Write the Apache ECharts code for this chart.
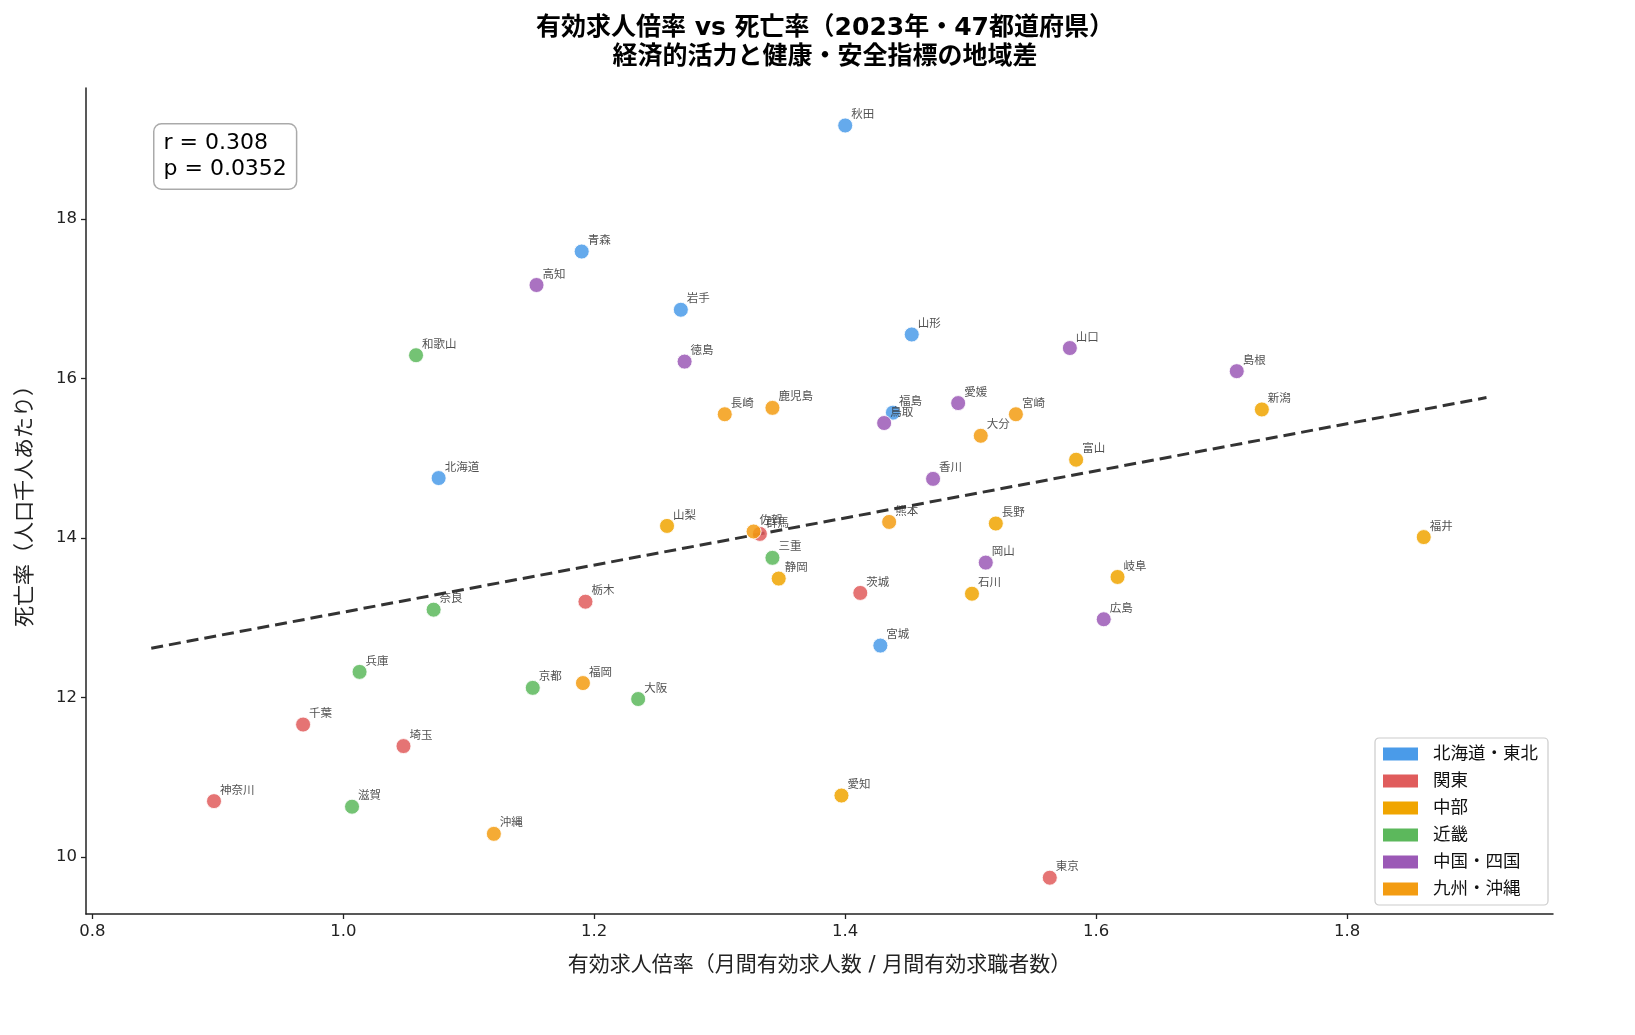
<!DOCTYPE html>
<html>
<head>
<meta charset="utf-8">
<script src="https://cdn.jsdelivr.net/npm/echarts@6/dist/echarts.min.js"></script>
<style>
  html, body { margin: 0; padding: 0; background: #fff; }
  #chart { width: 1635px; height: 1035px; }
</style>
</head>
<body>
<div id="chart"></div>
<script>
// regions and colours
const regions = ['北海道・東北', '関東', '中部', '近畿', '中国・四国', '九州・沖縄']
const regionColors = ['#4a9be9', '#e05c5c', '#f0a500', '#5cb85c', '#9b59b6', '#f39c12']

// prefecture name / 有効求人倍率 / 死亡率, per region
const tohokuNames = ['北海道', '青森', '岩手', '宮城', '秋田', '山形', '福島']
const tohokuJobs = [1.076, 1.190, 1.269, 1.428, 1.400, 1.453, 1.438]
const tohokuDeath = [14.75, 17.59, 16.86, 12.65, 19.17, 16.55, 15.57]

const kantoNames = ['茨城', '栃木', '群馬', '埼玉', '千葉', '東京', '神奈川']
const kantoJobs = [1.412, 1.193, 1.332, 1.048, 0.968, 1.563, 0.897]
const kantoDeath = [13.31, 13.20, 14.05, 11.39, 11.66, 9.74, 10.70]

const chubuNames = ['新潟', '富山', '石川', '福井', '山梨', '長野', '岐阜', '静岡', '愛知']
const chubuJobs = [1.732, 1.584, 1.501, 1.861, 1.258, 1.520, 1.617, 1.347, 1.397]
const chubuDeath = [15.61, 14.98, 13.30, 14.01, 14.15, 14.18, 13.51, 13.49, 10.77]

const kinkiNames = ['三重', '滋賀', '京都', '大阪', '兵庫', '奈良', '和歌山']
const kinkiJobs = [1.342, 1.007, 1.151, 1.235, 1.013, 1.072, 1.058]
const kinkiDeath = [13.75, 10.63, 12.12, 11.98, 12.32, 13.10, 16.29]

const shikokuNames = ['鳥取', '島根', '岡山', '広島', '山口', '徳島', '香川', '愛媛', '高知']
const shikokuJobs = [1.431, 1.712, 1.512, 1.606, 1.579, 1.272, 1.470, 1.490, 1.154]
const shikokuDeath = [15.44, 16.09, 13.69, 12.98, 16.38, 16.21, 14.74, 15.69, 17.17]

const kyushuNames = ['福岡', '佐賀', '長崎', '熊本', '大分', '宮崎', '鹿児島', '沖縄']
const kyushuJobs = [1.191, 1.327, 1.304, 1.435, 1.508, 1.536, 1.342, 1.120]
const kyushuDeath = [12.18, 14.08, 15.55, 14.20, 15.28, 15.55, 15.63, 10.29]

const xTicks = [0.8, 1.0, 1.2, 1.4, 1.6, 1.8]
const yTicks = [10, 12, 14, 16, 18]
const statText = 'r = 0.308\np = 0.0352'

const groups = [
    [tohokuNames, tohokuJobs, tohokuDeath],
    [kantoNames, kantoJobs, kantoDeath],
    [chubuNames, chubuJobs, chubuDeath],
    [kinkiNames, kinkiJobs, kinkiDeath],
    [shikokuNames, shikokuJobs, shikokuDeath],
    [kyushuNames, kyushuJobs, kyushuDeath]
]

// least squares fit over all prefectures
let allX = [], allY = []
groups.forEach(g => { allX = allX.concat(g[1]); allY = allY.concat(g[2]) })
const n = allX.length
const mx = allX.reduce((a, b) => a + b, 0) / n
const my = allY.reduce((a, b) => a + b, 0) / n
let sxy = 0, sxx = 0
for (let i = 0; i < n; i++) {
    sxy += (allX[i] - mx) * (allY[i] - my)
    sxx += (allX[i] - mx) * (allX[i] - mx)
}
const slope = sxy / sxx
const intercept = my - slope * mx
const x0 = Math.min(...allX) - 0.05
const x1 = Math.max(...allX) + 0.05

const font = '"DejaVu Sans", "Noto Sans CJK JP", sans-serif'
const cjk = '"Noto Sans CJK JP", "DejaVu Sans", sans-serif'

const scatterSeries = groups.map((g, k) => ({
    name: regions[k],
    type: 'scatter',
    symbolSize: 15,
    data: g[0].map((nm, i) => ({ name: nm, value: [g[1][i], g[2][i]] })),
    itemStyle: { color: regionColors[k], opacity: 0.85, borderColor: '#fff', borderWidth: 1 },
    emphasis: { disabled: true },
    label: {
        show: true,
        formatter: p => p.name,
        position: [14, 2],
        align: 'left',
        verticalAlign: 'bottom',
        fontSize: 11.5,
        color: '#333',
        fontFamily: cjk
    },
    z: 3
}))

const chart = echarts.init(document.getElementById('chart'))
chart.setOption({
    animation: false,
    backgroundColor: '#fff',
    title: {
        text: '有効求人倍率 vs 死亡率（2023年・47都道府県）\n経済的活力と健康・安全指標の地域差',
        left: 820,
        top: 9,
        textAlign: 'center',
        textStyle: { fontSize: 25, fontWeight: 'bold', color: '#000', fontFamily: font, lineHeight: 29 }
    },
    grid: { left: 86, right: 82, top: 88, bottom: 121 },
    xAxis: {
        type: 'value',
        min: 0.795,
        max: 1.964,
        name: '有効求人倍率（月間有効求人数 / 月間有効求職者数）',
        nameLocation: 'middle',
        nameGap: 41,
        nameTextStyle: { fontSize: 21, color: '#222', fontFamily: font },
        axisLine: { show: true, onZero: false, lineStyle: { color: '#222', width: 1.5 } },
        axisTick: { show: true, length: 5, customValues: xTicks, lineStyle: { color: '#222', width: 1.3 } },
        axisLabel: {
            customValues: xTicks,
            formatter: v => v.toFixed(1),
            fontSize: 16.5, color: '#222', margin: 9, fontFamily: font
        },
        splitLine: { show: false }
    },
    yAxis: {
        type: 'value',
        min: 9.285,
        max: 19.64,
        name: '死亡率（人口千人あたり）',
        nameLocation: 'middle',
        nameGap: 50,
        nameTextStyle: { fontSize: 21, color: '#222', fontFamily: font },
        axisLine: { show: true, onZero: false, lineStyle: { color: '#222', width: 1.5 } },
        axisTick: { show: true, length: 5, customValues: yTicks, lineStyle: { color: '#222', width: 1.3 } },
        axisLabel: {
            customValues: yTicks,
            fontSize: 16.5, color: '#222', margin: 9, fontFamily: font
        },
        splitLine: { show: false }
    },
    legend: {
        data: regions,
        orient: 'vertical',
        right: 87,
        bottom: 130,
        icon: 'rect',
        itemWidth: 35,
        itemHeight: 13,
        itemGap: 9,
        padding: [7, 10, 7, 8],
        borderColor: '#ccc',
        borderWidth: 1.2,
        borderRadius: 4,
        backgroundColor: 'rgba(255,255,255,0.9)',
        itemStyle: { opacity: 1, borderWidth: 0 },
        textStyle: { fontSize: 17.5, lineHeight: 18, color: '#111', fontFamily: font, padding: [0, 0, 0, 10] }
    },
    graphic: [{
        type: 'text',
        left: 153,
        top: 123,
        z: 10,
        style: {
            text: statText,
            fontSize: 22,
            lineHeight: 26,
            fill: '#000',
            fontFamily: font,
            backgroundColor: '#fff',
            borderColor: '#aaa',
            borderWidth: 1.5,
            borderRadius: 7,
            padding: [6, 9, 6, 9]
        }
    }],
    series: [{
        name: 'trend',
        type: 'line',
        data: [[x0, intercept + slope * x0], [x1, intercept + slope * x1]],
        symbol: 'none',
        lineStyle: { color: '#333', width: 3, type: [12, 6] },
        emphasis: { disabled: true },
        z: 2
    }].concat(scatterSeries)
})
</script>
</body>
</html>
